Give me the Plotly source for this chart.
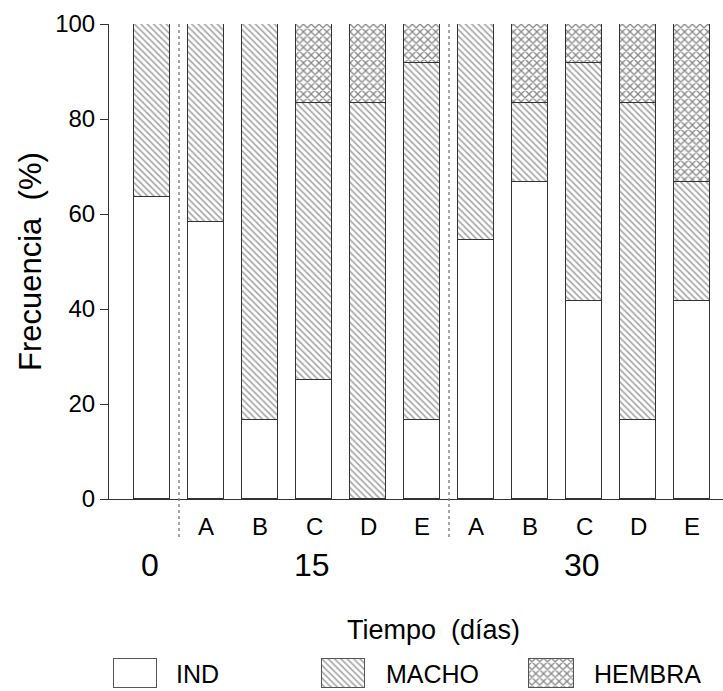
import plotly.graph_objects as go

# Frequency (%) of sexual stage per sampling time and treatment
times = ["0", "15", "15", "15", "15", "15", "30", "30", "30", "30", "30"]
treatments = ["", "A", "B", "C", "D", "E", "A", "B", "C", "D", "E"]
ind = [63.6, 58.3, 16.7, 25.0, 0.0, 16.7, 54.5, 66.7, 41.7, 16.7, 41.7]
macho = [36.4, 41.7, 83.3, 58.3, 83.3, 75.0, 45.5, 16.7, 50.0, 66.7, 25.0]
hembra = [0.0, 0.0, 0.0, 16.7, 16.7, 8.3, 0.0, 16.7, 8.3, 16.7, 33.3]
y_ticks = [0, 20, 40, 60, 80, 100]
series_names = ["IND", "MACHO", "HEMBRA"]

FONT = "Liberation Sans, Arial, sans-serif"
EDGE = "#333333"
W, H = 723, 691
TOP = 24
PLOT_LEFT, PLOT_BOTTOM = 109, 499

styles = {
    "IND": dict(color="white"),
    "MACHO": dict(color="white",
                  pattern=dict(shape="\\", size=4.5, solidity=0.36,
                               fgcolor="#4a4a4a", bgcolor="white")),
    "HEMBRA": dict(color="white",
                   pattern=dict(shape="x", size=5.5, solidity=0.42,
                                fgcolor="#111111", bgcolor="white")),
}

xpos = list(range(len(ind)))
fig = go.Figure()
for name, vals in zip(series_names, [ind, macho, hembra]):
    fig.add_trace(go.Bar(
        x=xpos, y=vals, name=name, width=0.667,
        marker=dict(line=dict(color=EDGE, width=1), **styles[name]),
        showlegend=False, hoverinfo="skip",
    ))

paper_h = H - TOP
main_bottom = (H - PLOT_BOTTOM) / paper_h

fig.update_layout(
    width=W, height=H,
    margin=dict(l=0, r=0, t=TOP, b=0, autoexpand=False),
    paper_bgcolor="white", plot_bgcolor="white",
    barmode="stack", bargap=0, showlegend=False,
    font=dict(family=FONT, color="black"),
    xaxis=dict(domain=[PLOT_LEFT / W, 1], range=[-0.7963, 10.574],
               showticklabels=False, ticks="", showgrid=False, zeroline=False,
               showline=True, linecolor=EDGE, linewidth=1, fixedrange=True,
               automargin=False),
    yaxis=dict(domain=[main_bottom, 1], range=[0, 100], tickvals=y_ticks,
               ticks="outside", ticklen=8, tickcolor=EDGE, tickwidth=1,
               tickfont=dict(size=24, family=FONT), showgrid=False,
               zeroline=False, showline=True, linecolor=EDGE, linewidth=1,
               automargin=False, fixedrange=True),
)

# Dotted separators between sampling times
for xs in [0.5, 5.5]:
    fig.add_shape(type="line", xref="x", yref="y domain", x0=xs, x1=xs,
                  y0=-0.08, y1=1, line=dict(color="#888888", width=1.5, dash="dot"))

# Treatment letters under each bar
for xp, t in zip(xpos, treatments):
    if t:
        fig.add_annotation(x=xp, y=-0.0589, xref="x", yref="y domain", text=t,
                           showarrow=False, font=dict(size=24, family=FONT),
                           xanchor="center", yanchor="middle")

# Sampling-time labels centred under their group
groups = {}
for xp, t in zip(xpos, times):
    groups.setdefault(t, []).append(xp)
for t, members in groups.items():
    fig.add_annotation(x=sum(members) / len(members) - 0.03, y=-0.139, xref="x",
                       yref="y domain", text=t, showarrow=False,
                       font=dict(size=32, family=FONT),
                       xanchor="center", yanchor="middle")

# Axis titles
fig.add_annotation(x=30 / W, y=(H - 262) / paper_h, xref="paper", yref="paper",
                   text="Frecuencia  (%)", textangle=-90, showarrow=False,
                   font=dict(size=31, family=FONT), xanchor="center", yanchor="middle")
fig.add_annotation(x=433 / W, y=(H - 630) / paper_h, xref="paper", yref="paper",
                   text="Tiempo  (días)", showarrow=False,
                   font=dict(size=27, family=FONT), xanchor="center", yanchor="middle")

# Legend: each swatch is a single bar inside its own small axis
swatches = {"IND": (113, 158, 174), "MACHO": (321, 366, 384), "HEMBRA": (528, 575, 592)}
sy0, sy1 = (H - 689) / paper_h, (H - 658) / paper_h
for i, name in enumerate(series_names, start=2):
    x0, x1, tx = swatches[name]
    fig.add_trace(go.Bar(
        x=[0.5], y=[1], width=[1], xaxis=f"x{i}", yaxis=f"y{i}",
        marker=dict(line=dict(color="#555555", width=1), **styles[name]),
        showlegend=False, hoverinfo="skip",
    ))
    fig.update_layout({
        f"xaxis{i}": dict(domain=[x0 / W, x1 / W], range=[-0.03, 1.03], visible=False,
                          anchor=f"y{i}", fixedrange=True, automargin=False),
        f"yaxis{i}": dict(domain=[sy0, sy1], range=[-0.04, 1.04], visible=False,
                          anchor=f"x{i}", fixedrange=True, automargin=False),
    })
    fig.add_annotation(x=tx / W, y=(sy0 + sy1) / 2, xref="paper", yref="paper",
                       text=name, showarrow=False, font=dict(size=25, family=FONT),
                       xanchor="left", yanchor="middle")

fig.write_html("out.html")
